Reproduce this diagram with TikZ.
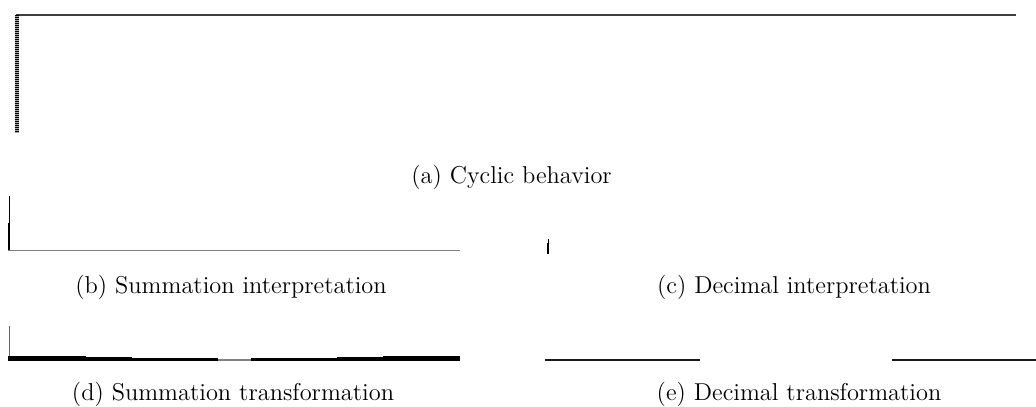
\documentclass[tikz,border=0pt]{standalone}
\begin{document}
\begin{tikzpicture}[x=0.5pt,y=-0.5pt,
  caption/.style={font=\fontsize{12.2}{14}\selectfont, anchor=base, inner sep=0pt},
  axis/.style={line width=0.5pt, black},
  bar/.style={fill=black, draw=none}]
\useasboundingbox (0,0) rectangle (1036,406);

% (a) cyclic behaviour
\draw[line width=1pt, black!75] (16,15) -- (1016,15);
\draw[line width=2pt, black!35] (17,15) -- (17,133);
\draw[line width=2pt, black, dash pattern=on 0.5pt off 0.5pt] (17,15) -- (17,133);
\node[caption] (capa) at (511.5,184) {(a) Cyclic behavior};

% (b) summation interpretation
\draw[axis] (9,196) -- (9,251);
\draw[line width=1pt, black] (8.5,223) -- (8.5,251);
\draw[line width=0.65pt, black!50] (8,250.7) -- (460,250.7);
\node[caption] (capb) at (231,293) {(b) Summation interpretation};

% (c) decimal interpretation
\draw[line width=0.4pt, black] (548,239) -- (548,244);
\draw[line width=1pt, black] (548,243) -- (548,254);
\node[caption] (capc) at (794,293) {(c) Decimal interpretation};

% (d) summation transformation
\draw[line width=0.5pt, black!60] (9,326) -- (9,360);
\fill[bar] (8,356) rectangle (86,360.7);
\fill[bar] (86,356.7) rectangle (132,360.7);
\fill[bar] (132,357.7) rectangle (171,360.7);
\fill[bar] (171,358.3) rectangle (218,360.7);
\fill[black!50] (218,359.2) rectangle (251,360.7);
\fill[bar] (251,358.3) rectangle (299,360.7);
\fill[bar] (299,357.7) rectangle (337,360.7);
\fill[bar] (337,356.7) rectangle (383,360.7);
\fill[bar] (383,356) rectangle (460,360.7);
\node[caption] (capd) at (233,400) {(d) Summation transformation};

% (e) decimal transformation
\draw[line width=0.85pt, black!90] (545,360) -- (700,360);
\draw[line width=0.85pt, black!90] (892,360) -- (1036,360);
\node[caption] (cape) at (799,400) {(e) Decimal transformation};
\end{tikzpicture}
\end{document}
